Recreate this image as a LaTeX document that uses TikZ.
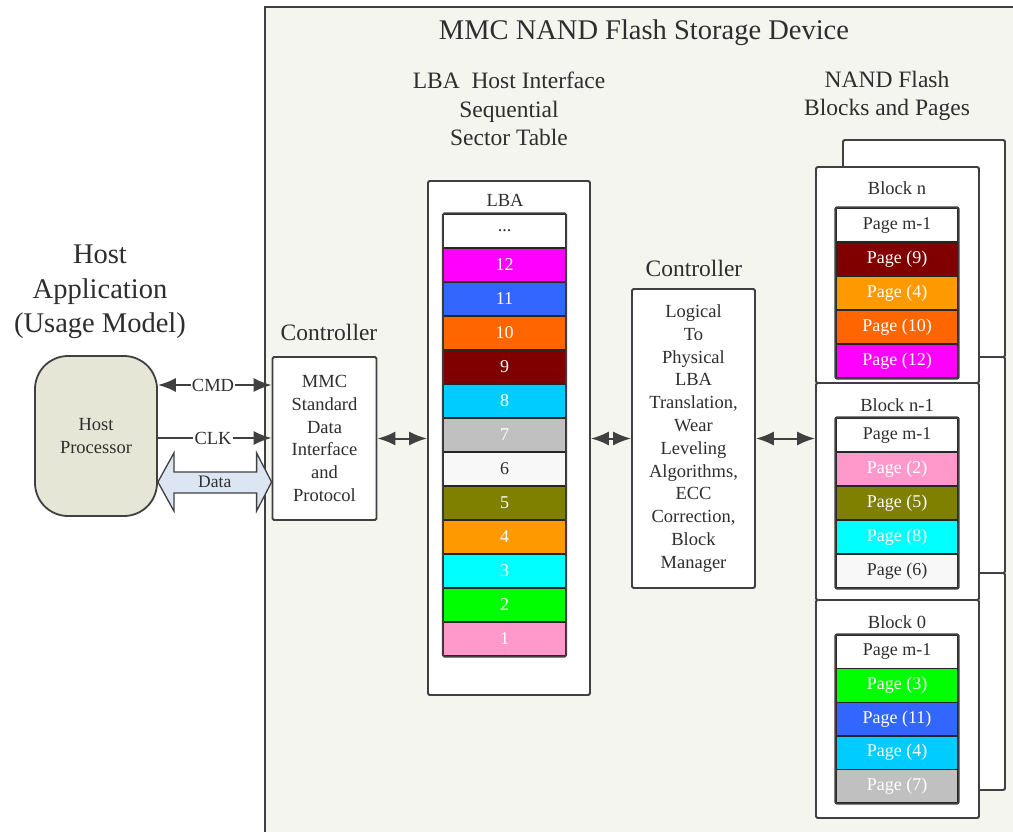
\documentclass[tikz,border=0pt]{standalone}
\usepackage{fontspec}
\setmainfont{Liberation Serif}
\usetikzlibrary{arrows.meta,calc}

\definecolor{devbg}{HTML}{F3F5EE}
\definecolor{hostbg}{HTML}{E6E6D6}
\definecolor{databg}{HTML}{DCE6F2}
\definecolor{edge}{HTML}{404040}
\definecolor{ink}{HTML}{2E2E2E}
\definecolor{cMag}{HTML}{FF00FF}
\definecolor{cBlue}{HTML}{3366FF}
\definecolor{cOrange}{HTML}{FF6600}
\definecolor{cMaroon}{HTML}{800000}
\definecolor{cSky}{HTML}{00CCFF}
\definecolor{cGray}{HTML}{C0C0C0}
\definecolor{cPale}{HTML}{F8F8F8}
\definecolor{cOlive}{HTML}{808000}
\definecolor{cAmber}{HTML}{FF9900}
\definecolor{cCyan}{HTML}{00FFFF}
\definecolor{cGreen}{HTML}{00FF00}
\definecolor{cPink}{HTML}{FF99CC}

\newcommand\fsz[2]{\fontsize{#1}{#2}\selectfont}

\tikzset{
  every node/.append style={text=ink, font=\fsz{18.5}{22.8}, align=center, inner sep=1pt},
  box/.style={draw=edge, line width=1.8pt, fill=white, rounded corners=1.5pt},
  hostbox/.style={draw=edge, line width=1.8pt, fill=hostbg, rounded corners=33pt},
  cell/.style={draw=black!85, line width=1.4pt, minimum width=122pt, minimum height=34pt, inner sep=0pt, font=\fsz{18}{21}},
  stackrim/.style={draw=edge, line width=1.8pt, rounded corners=1.5pt},
  conn/.style={draw=edge, line width=2pt},
  heading/.style={font=\fsz{23.5}{28.5}},
  bigheading/.style={font=\fsz{28.5}{34.5}},
  >={Latex[length=18pt,width=14pt]}
}

\begin{document}
\begin{tikzpicture}[x=1pt,y=-1pt]
\useasboundingbox (0,0) rectangle (1013,831);
\clip (0,0) rectangle (1013,831);
\fill[white] (0,0) rectangle (1013,831);

% storage device enclosure
\draw[draw=edge, line width=1.8pt, fill=devbg] (265,7) rectangle (1040,860);

% headings
\node[bigheading] (title) at (644,33) {MMC NAND Flash Storage Device};
\node[heading] (lbahead) at (509,109) {LBA~~Host Interface\\Sequential\\Sector Table};
\node[heading] (nandhead) at (887,96) {NAND Flash\\Blocks and Pages};
\node[bigheading] (happ) at (100,292) {Host\\Application\\(Usage Model)};
\node[heading] (ctl1) at (329,332) {Controller};
\node[heading] (ctl2) at (694,268) {Controller};

% host side
\node[hostbox, minimum width=122pt, minimum height=160pt] (host) at (96,436) {Host\\Processor};
\node[box, minimum width=104pt, minimum height=163pt] (mmc) at (324.5,438.5)
  {MMC\\Standard\\Data\\Interface\\and\\Protocol};

\node (cmd) at (213,385) {CMD};
\draw[conn,<-] (host.east |- cmd) -- (cmd.west);
\draw[conn,->] (cmd.east) -- (mmc.west |- cmd);

\node (clk) at (213,438) {CLK};
\draw[conn] (host.east |- clk) -- (clk.west);
\draw[conn,->] (clk.east) -- (mmc.west |- clk);

% data bus
\coordinate (dl) at (host.east |- 0,482);
\coordinate (dr) at (mmc.west |- 0,482);
\draw[draw=edge, line width=1.3pt, fill=databg, line join=miter]
  (dl) -- ++(16,-29) -- ++(0,19) -- ($(dr)+(-15,-10)$) -- ++(0,-19) -- (dr)
  -- ++(-15,29) -- ++(0,-18) -- ($(dl)+(16,11)$) -- ++(0,18) -- cycle;
\node[font=\fsz{17.5}{20}] (data) at ($(dl)!0.5!(dr)$) {Data};

% LBA sector table
\node[box, minimum width=162pt, minimum height=514pt] (lbabox) at (509,438) {};
\node (lbatitle) at (505,200) {LBA};
\foreach \t/\f/\c [count=\i from 0] in
  {{...}/white/ink, 12/cMag/white, 11/cBlue/white, 10/cOrange/white,
   9/cMaroon/white, 8/cSky/white, 7/cGray/white, 6/cPale/ink,
   5/cOlive/white, 4/cAmber/white, 3/cCyan/white, 2/cGreen/white, 1/cPink/white}
  \node[cell, fill=\f, text=\c] (lba\i) at (504.5,231+34*\i) {\t};
\draw[stackrim] (lba0.north west) rectangle (lba12.south east);

\draw[conn,<->] (mmc.east) -- (mmc.east -| lbabox.west);

% translation controller
\node[box, minimum width=123pt, minimum height=299pt] (l2p) at (693.5,438.5)
  {Logical\\To\\Physical\\LBA\\Translation,\\Wear\\Leveling\\Algorithms,\\ECC\\Correction,\\Block\\Manager};
\draw[conn,<->] (lbabox.east |- l2p) -- (l2p.west);

% NAND blocks (stacked planes behind)
\node[box, minimum width=162pt, minimum height=217pt] (backn) at (924,248.5) {};
\node[box, minimum width=162pt, minimum height=216pt] (backn1) at (924,465) {};
\node[box, minimum width=162pt, minimum height=217pt] (back0) at (924,681.5) {};

\node[box, minimum width=163pt, minimum height=216pt] (blkn) at (897.5,275) {};
\node[box, minimum width=163pt, minimum height=217pt] (blkn1) at (897.5,491.5) {};
\node[box, minimum width=163pt, minimum height=218pt] (blk0) at (897.5,709) {};

\node (labn) at (897,188) {Block n};
\node (labn1) at (897,405) {Block n-1};
\node (lab0) at (897,622) {Block 0};

\foreach \t/\f/\c [count=\i from 0] in
  {{Page m-1}/white/ink, {Page (9)}/cMaroon/white, {Page (4)}/cAmber/white,
   {Page (10)}/cOrange/white, {Page (12)}/cMag/white}
  \node[cell, fill=\f, text=\c] (pn\i) at (897,225+34*\i) {\t};
\draw[stackrim] (pn0.north west) rectangle (pn4.south east);

\foreach \t/\f/\c [count=\i from 0] in
  {{Page m-1}/white/ink, {Page (2)}/cPink/white, {Page (5)}/cOlive/white,
   {Page (8)}/cCyan/white, {Page (6)}/cPale/ink}
  \node[cell, fill=\f, text=\c] (pm\i) at (897,435+34*\i) {\t};
\draw[stackrim] (pm0.north west) rectangle (pm4.south east);

\foreach \t/\f/\c [count=\i from 0] in
  {{Page m-1}/white/ink, {Page (3)}/cGreen/white, {Page (11)}/cBlue/white,
   {Page (4)}/cSky/white, {Page (7)}/cGray/white}
  \node[cell, fill=\f, text=\c, minimum height=33.6pt] (pz\i) at (897,651.8+33.6*\i) {\t};
\draw[stackrim] (pz0.north west) rectangle (pz4.south east);

\draw[conn,<->] (l2p.east) -- (l2p.east -| blkn1.west);
\end{tikzpicture}
\end{document}
